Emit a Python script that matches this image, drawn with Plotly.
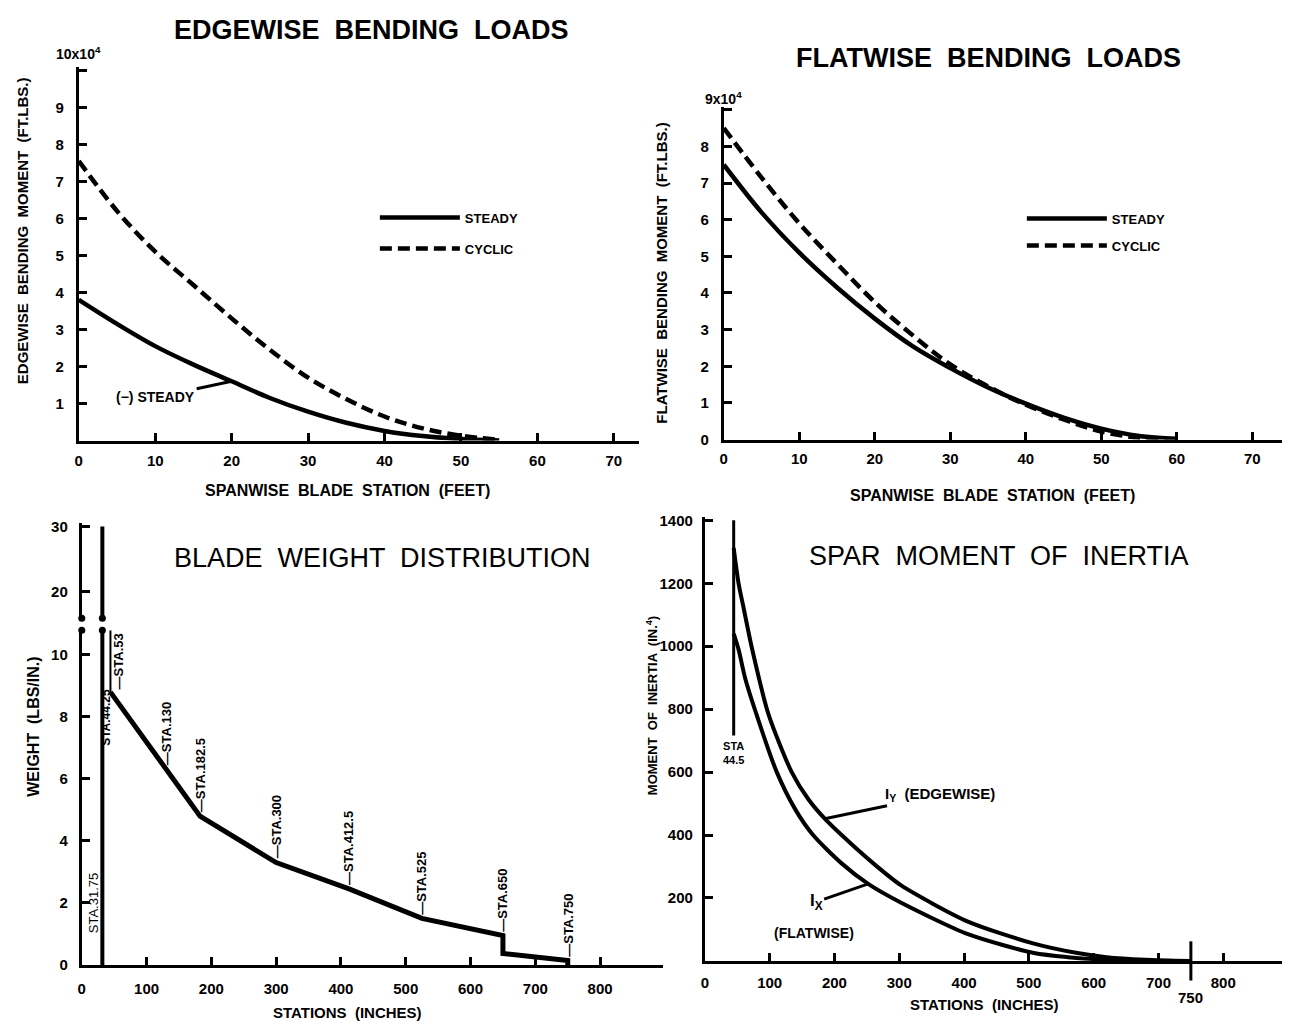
import plotly.graph_objects as go

W, H = 1290, 1034
OFF = 8  # default body margin of the html page

# ---------------- data ----------------
edge_x = [0, 5, 10, 15, 20, 25, 30, 35, 40, 45, 50, 55]
edge_steady = [3.8, 3.15, 2.55, 2.05, 1.6, 1.15, 0.78, 0.48, 0.26, 0.12, 0.04, 0.0]
edge_cyclic = [7.55, 6.2, 5.1, 4.2, 3.3, 2.45, 1.7, 1.12, 0.65, 0.33, 0.13, 0.02]

flat_x = [0, 5, 10, 15, 20, 25, 30, 35, 40, 45, 50, 55, 60]
flat_steady = [7.5, 6.2, 5.1, 4.15, 3.3, 2.55, 1.95, 1.42, 0.98, 0.6, 0.3, 0.1, 0.02]
flat_cyclic = [8.5, 7.15, 5.9, 4.8, 3.75, 2.85, 2.05, 1.45, 0.95, 0.55, 0.22, 0.05, 0.0]

root_x = [31.75, 31.75]
root_low_y = [0, 10.8]
root_high_y = [15.9, 30]
weight_x = [44.25, 44.25, 53, 130, 182.5, 300, 412.5, 525, 650, 650, 750, 750]
weight_y = [10.8, 8.8, 8.55, 6.3, 4.8, 3.3, 2.45, 1.5, 0.95, 0.37, 0.14, 0.0]
sta_labels = ["—STA.53", "—STA.130", "—STA.182.5", "—STA.300", "—STA.412.5",
              "—STA.525", "—STA.650", "—STA.750"]
sta_x = [57, 130, 182.5, 300, 412.5, 525, 650, 750]
sta_y = [8.75, 6.3, 4.8, 3.3, 2.45, 1.5, 0.95, 0.14]

iy_x = [44.5, 52, 60, 72, 98, 134, 160, 185, 211, 260, 303, 406, 508, 575, 620, 680, 750]
iy_y = [1312, 1200, 1120, 1000, 785, 600, 513, 452, 400, 310, 240, 125, 55, 25, 12, 4, 0]
ix_x = [44.5, 52, 62, 77, 111, 140, 167, 211, 252, 303, 406, 508, 560, 620, 700]
ix_y = [1040, 990, 900, 800, 600, 480, 400, 310, 245, 185, 85, 25, 12, 4, 0]
sta445_x = [44.5, 44.5]
sta445_y = [1400, 716]

edge_yticks = [1, 2, 3, 4, 5, 6, 7, 8, 9]
flat_yticks = [0, 1, 2, 3, 4, 5, 6, 7, 8]
feet_ticks = [0, 10, 20, 30, 40, 50, 60, 70]
inch_ticks = [0, 100, 200, 300, 400, 500, 600, 700, 800]
weight_low_ticks = [0, 2, 4, 6, 8, 10]
weight_high_ticks = [20, 30]
inertia_ticks = [200, 400, 600, 800, 1000, 1200, 1400]

FONT = "Liberation Sans"
BLK = "black"


def px_x(p):
    return min(1.0, max(0.0, (p - OFF) / W))


def px_y(p):
    return min(1.0, max(0.0, 1 - (p - OFF) / H))


fig = go.Figure()

# Panel 1: edgewise
fig.add_trace(go.Scatter(x=edge_x, y=edge_steady, mode="lines", name="STEADY",
                         line=dict(color=BLK, width=4.5, shape="spline"),
                         xaxis="x", yaxis="y", legend="legend", legendgroup="a"))
fig.add_trace(go.Scatter(x=edge_x, y=edge_cyclic, mode="lines", name="CYCLIC",
                         line=dict(color=BLK, width=4.5, dash="12px,6px", shape="spline"),
                         xaxis="x", yaxis="y", legend="legend", legendgroup="b"))

# Panel 2: flatwise
fig.add_trace(go.Scatter(x=flat_x, y=flat_steady, mode="lines", name="STEADY",
                         line=dict(color=BLK, width=4.5, shape="spline"),
                         xaxis="x2", yaxis="y2", legend="legend2", legendgroup="c"))
fig.add_trace(go.Scatter(x=flat_x, y=flat_cyclic, mode="lines", name="CYCLIC",
                         line=dict(color=BLK, width=4.5, dash="12px,6px", shape="spline"),
                         xaxis="x2", yaxis="y2", legend="legend2", legendgroup="d"))

# Panel 3: weight
fig.add_trace(go.Scatter(x=root_x, y=root_low_y, mode="lines", showlegend=False,
                         line=dict(color=BLK, width=4), xaxis="x3", yaxis="y3"))
fig.add_trace(go.Scatter(x=root_x, y=root_high_y, mode="lines", showlegend=False,
                         line=dict(color=BLK, width=4), xaxis="x3", yaxis="y5"))
fig.add_trace(go.Scatter(x=weight_x[:2], y=weight_y[:2], mode="lines", showlegend=False,
                         line=dict(color=BLK, width=2), xaxis="x3", yaxis="y3"))
fig.add_trace(go.Scatter(x=weight_x[1:], y=weight_y[1:], mode="lines", showlegend=False,
                         line=dict(color=BLK, width=5), xaxis="x3", yaxis="y3"))
# axis-break dots
fig.add_trace(go.Scatter(x=[0, root_x[0]], y=[root_low_y[1]] * 2, mode="markers",
                         showlegend=False, cliponaxis=False,
                         marker=dict(color=BLK, size=7), xaxis="x3", yaxis="y3"))
fig.add_trace(go.Scatter(x=[0, root_x[0]], y=[root_high_y[0]] * 2, mode="markers",
                         showlegend=False, cliponaxis=False,
                         marker=dict(color=BLK, size=7), xaxis="x3", yaxis="y5"))

# Panel 4: inertia
fig.add_trace(go.Scatter(x=iy_x, y=iy_y, mode="lines", showlegend=False,
                         line=dict(color=BLK, width=4, shape="spline", smoothing=0.7),
                         xaxis="x4", yaxis="y4"))
fig.add_trace(go.Scatter(x=ix_x, y=ix_y, mode="lines", showlegend=False,
                         line=dict(color=BLK, width=4, shape="spline", smoothing=0.7),
                         xaxis="x4", yaxis="y4"))
fig.add_trace(go.Scatter(x=sta445_x, y=sta445_y, mode="lines", showlegend=False,
                         line=dict(color=BLK, width=3), xaxis="x4", yaxis="y4"))
fig.add_trace(go.Scatter(x=[750], y=[0], mode="markers", showlegend=False, cliponaxis=False,
                         marker=dict(symbol="line-ns", size=28, line=dict(color=BLK, width=3)),
                         xaxis="x4", yaxis="y4"))

tickfont = dict(family=FONT, size=15, color=BLK, weight="bold")


def ax(**kw):
    base = dict(showgrid=False, zeroline=False, showline=True, linecolor=BLK, linewidth=3,
                ticks="inside", ticklen=8, tickwidth=2.5, tickcolor=BLK,
                tickfont=tickfont, tickmode="array", fixedrange=True)
    base.update(kw)
    return base


fig.update_layout(
    width=W, height=H, paper_bgcolor="white", plot_bgcolor="rgba(0,0,0,0)",
    margin=dict(l=0, r=0, t=0, b=0),
    font=dict(family=FONT, color=BLK),
    xaxis=ax(domain=[px_x(75), px_x(637)], range=[0, 73.3], anchor="y",
             tickvals=feet_ticks, ticklabelstandoff=4),
    yaxis=ax(domain=[px_y(441), px_y(63)], range=[0, 10.08], anchor="x",
             tickvals=edge_yticks + [10], ticktext=[str(v) for v in edge_yticks] + [""],
             ticklabelstandoff=9),
    xaxis2=ax(domain=[px_x(722), px_x(1290)], range=[0, 75], anchor="y2",
              tickvals=feet_ticks, ticklabelstandoff=3),
    yaxis2=ax(domain=[px_y(440), px_y(103)], range=[0, 9.08], anchor="x2",
              tickvals=flat_yticks + [9], ticktext=[str(v) for v in flat_yticks] + [""],
              ticklabelstandoff=9),
    xaxis3=ax(domain=[px_x(78), px_x(661)], range=[0, 897], anchor="y3",
              tickvals=inch_ticks, ticklabelstandoff=8),
    yaxis3=ax(domain=[px_y(972), px_y(633)], range=[0, 10.8], anchor="x3",
              tickvals=weight_low_ticks, ticklabelstandoff=8),
    yaxis5=ax(domain=[px_y(621), px_y(524)], range=[15.9, 30.6], anchor="x3",
              tickvals=weight_high_ticks, ticklabelstandoff=8),
    xaxis4=ax(domain=[px_x(703), px_x(1290)], range=[0, 903], anchor="y4",
              tickvals=inch_ticks, ticklabelstandoff=6),
    yaxis4=ax(domain=[px_y(968), px_y(518)], range=[0, 1412], anchor="x4",
              tickvals=inertia_ticks, ticklabelstandoff=6),
    legend=dict(x=px_x(372), y=px_y(200), xanchor="left", yanchor="top",
                bgcolor="rgba(0,0,0,0)", tracegroupgap=11, itemwidth=80,
                font=dict(family=FONT, size=13, weight="bold")),
    legend2=dict(x=px_x(1021), y=px_y(201), xanchor="left", yanchor="top",
                 bgcolor="rgba(0,0,0,0)", tracegroupgap=7, itemwidth=80,
                 font=dict(family=FONT, size=13, weight="bold")),
)


# ---------- text ----------
def paper_text(text, x, y, size, bold=True, angle=0):
    fig.add_annotation(text=text, x=px_x(x), y=px_y(y), xref="paper", yref="paper",
                       xanchor="center", yanchor="middle", showarrow=False, textangle=angle,
                       font=dict(family=FONT, size=size, color=BLK,
                                 weight="bold" if bold else "normal"))


paper_text("EDGEWISE  BENDING  LOADS", 369, 25, 27)
paper_text("FLATWISE  BENDING  LOADS", 988, 54, 27)
paper_text("BLADE  WEIGHT  DISTRIBUTION", 380, 560, 27, bold=False)
paper_text("SPAR  MOMENT  OF  INERTIA", 998, 558, 27, bold=False)

paper_text("SPANWISE  BLADE  STATION  (FEET)", 345, 492, 16)
paper_text("SPANWISE  BLADE  STATION  (FEET)", 992, 497, 16)
paper_text("STATIONS  (INCHES)", 345, 1020, 15)
paper_text("STATIONS  (INCHES)", 984, 1012, 15)
paper_text("EDGEWISE  BENDING  MOMENT  (FT.LBS.)", 18, 228, 15, angle=-90)
paper_text("FLATWISE  BENDING  MOMENT  (FT.LBS.)", 660, 271, 15, angle=-90)
paper_text("WEIGHT  (LBS/IN.)", 30, 731, 16, angle=-90)
paper_text("MOMENT  OF  INERTIA  (IN.<sup>4</sup>)", 650, 710, 13, angle=-90)
paper_text("(FLATWISE)", 812, 940, 14)

small = dict(family=FONT, size=14, color=BLK, weight="bold")
fig.add_annotation(text="10x10<sup>4</sup>", x=0, y=10, xref="x", yref="y", showarrow=False,
                   xanchor="center", yanchor="bottom", yshift=6, font=small)
fig.add_annotation(text="9x10<sup>4</sup>", x=0, y=9, xref="x2", yref="y2", showarrow=False,
                   xanchor="center", yanchor="bottom", yshift=1, font=small)

fig.add_annotation(text="(−) STEADY", x=20, y=edge_steady[4], xref="x", yref="y",
                   showarrow=True, arrowhead=0, arrowwidth=3, arrowcolor=BLK,
                   ax=-76, ay=16, font=small)

# weight station labels
for t, xv, yv in zip(sta_labels, sta_x, sta_y):
    fig.add_annotation(text=t, x=xv, y=yv, xref="x3", yref="y3", showarrow=False,
                       textangle=-90, xanchor="center", yanchor="bottom", yshift=2,
                       font=dict(family=FONT, size=13, color=BLK, weight="bold"))
fig.add_annotation(text="STA.31.75", x=18.5, y=0.95, xref="x3", yref="y3", showarrow=False,
                   textangle=-90, xanchor="center", yanchor="bottom",
                   font=dict(family=FONT, size=13, color=BLK))
fig.add_annotation(text="STA.44.25", x=38, y=7.0, xref="x3", yref="y3", showarrow=False,
                   textangle=-90, xanchor="center", yanchor="bottom",
                   font=dict(family=FONT, size=12, color=BLK, weight="bold"))

# inertia labels
fig.add_annotation(text="STA<br>44.5", x=44.5, y=sta445_y[1], xref="x4", yref="y4",
                   showarrow=False, xanchor="center", yanchor="top", yshift=-2,
                   font=dict(family=FONT, size=11, color=BLK, weight="bold"))
fig.add_annotation(text="I<sub>Y</sub>  (EDGEWISE)", x=185, y=452, xref="x4", yref="y4",
                   showarrow=True, arrowhead=0, arrowwidth=3, arrowcolor=BLK,
                   ax=115, ay=-24, font=dict(family=FONT, size=15, color=BLK, weight="bold"))
fig.add_annotation(text="I<sub>X</sub>", x=252, y=245, xref="x4", yref="y4",
                   showarrow=True, arrowhead=0, arrowwidth=3, arrowcolor=BLK,
                   ax=-52, ay=18, font=dict(family=FONT, size=17, color=BLK, weight="bold"))
fig.add_annotation(text="750", x=750, y=0, xref="x4", yref="y4", showarrow=False,
                   yshift=-37, xanchor="center", yanchor="middle", font=tickfont)

fig.write_html("out.html")
